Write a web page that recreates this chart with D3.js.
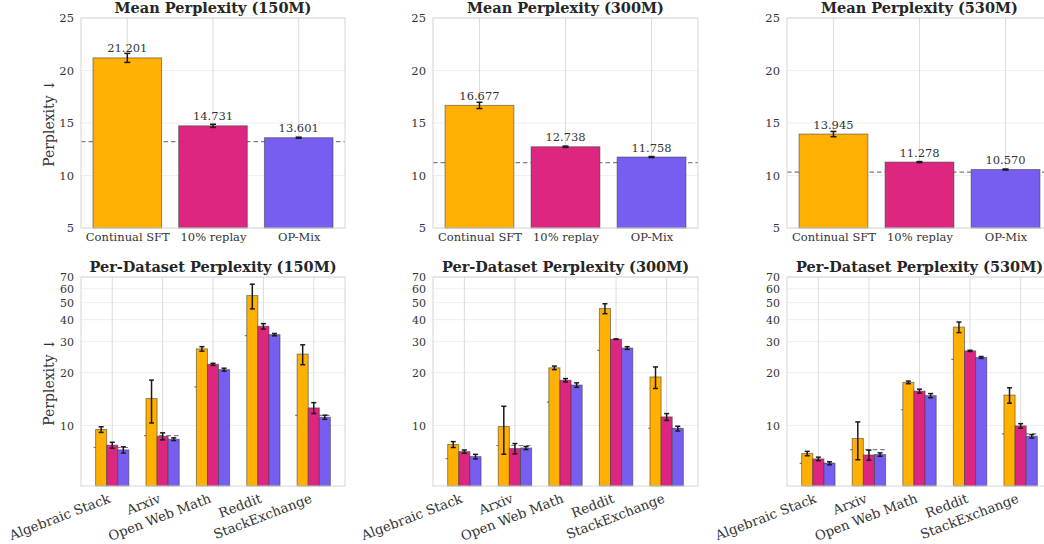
<!DOCTYPE html>
<html><head><meta charset="utf-8">
<script src="https://cdn.jsdelivr.net/npm/d3@7"></script>
<style>
html,body{margin:0;padding:0;background:#fff;}
svg{display:block;font-family:"DejaVu Serif",serif;}
</style></head>
<body><svg id="chart" width="1044" height="544"></svg>
<script>
// ---------- data ----------
const sizes = ["150M", "300M", "530M"];
const methods = ["Continual SFT", "10% replay", "OP-Mix"];
const colors = ["#FFB000", "#DC267F", "#785EF0"];
const meanValues = [[21.201, 14.731, 13.601], [16.677, 12.738, 11.758], [13.945, 11.278, 10.570]];
const meanErrors = [[0.43, 0.15, 0.05], [0.30, 0.06, 0.05], [0.25, 0.05, 0.05]];
const meanBaseline = [13.22, 11.22, 10.33];
const meanTicks = [5, 10, 15, 20, 25];

const datasets = ["Algebraic Stack", "Arxiv", "Open Web Math", "Reddit", "StackExchange"];
// [size][method][dataset]
const dsValues = [
  [[9.49, 14.24, 27.3, 54.9, 25.5], [7.73, 8.69, 22.3, 36.7, 12.6], [7.27, 8.36, 20.8, 32.9, 11.15]],
  [[7.80, 9.87, 21.3, 46.3, 18.9], [7.11, 7.40, 18.1, 31.0, 11.2], [6.66, 7.45, 17.0, 27.6, 9.61]],
  [[6.93, 8.44, 17.6, 36.3, 14.9], [6.46, 6.80, 15.7, 26.6, 9.95], [6.10, 6.84, 14.8, 24.4, 8.69]]
];
const dsErrors = [
  [[0.35, 3.9, 0.8, 8.8, 3.3], [0.3, 0.4, 0.3, 1.3, 0.9], [0.3, 0.15, 0.4, 0.5, 0.3]],
  [[0.3, 3.0, 0.5, 3.0, 2.65], [0.15, 0.5, 0.4, 0.1, 0.5], [0.2, 0.15, 0.5, 0.5, 0.3]],
  [[0.2, 2.05, 0.3, 2.5, 1.5], [0.15, 0.45, 0.4, 0.2, 0.3], [0.12, 0.15, 0.4, 0.3, 0.2]]
];
const dsBaseline = [
  [7.50, 8.77, 16.6, 32.5, 11.44],
  [6.49, 7.70, 13.6, 26.8, 9.65],
  [6.10, 7.30, 12.3, 23.8, 8.96]
];
const dsTicks = [10, 20, 30, 40, 50, 60, 70];

// ---------- layout ----------
const svg = d3.select("#chart");
svg.append("rect").attr("width", 1044).attr("height", 544).attr("fill", "#fff");
const panelX = [[81, 345], [433, 698], [787, 1052]];
const topY = [18, 228];
const botY = [277, 486];
const textCol = "#333";
const gridH = "#efefef", gridV = "#dcdcdc", spineCol = "#d6d6d6";

function frame(g, x0, x1, y0, y1) {
  g.append("rect").attr("x", x0).attr("y", y0).attr("width", x1 - x0).attr("height", y1 - y0)
    .attr("fill", "none").attr("stroke", spineCol).attr("stroke-width", 1);
}

function errBar(g, cx, y1, y2, cap, sw) {
  g.append("line").attr("x1", cx).attr("x2", cx).attr("y1", y1).attr("y2", y2)
    .attr("stroke", "#1a1a1a").attr("stroke-width", sw);
  [y1, y2].forEach(yy => g.append("line").attr("x1", cx - cap).attr("x2", cx + cap)
    .attr("y1", yy).attr("y2", yy).attr("stroke", "#1a1a1a").attr("stroke-width", sw));
}

function yLabel(g, x, y) {
  g.append("text").attr("transform", `translate(${x},${y}) rotate(-90)`)
    .attr("text-anchor", "middle").attr("font-size", 14).attr("fill", textCol)
    .text("Perplexity \u2193");
}

// ---------- top row: mean perplexity ----------
sizes.forEach((s, si) => {
  const [x0, x1] = panelX[si];
  const g = svg.append("g");
  const x = d3.scaleLinear().domain([-0.54, 2.54]).range([x0, x1]);
  const y = d3.scaleLinear().domain([5, 25]).range([topY[1], topY[0]]);
  // grid
  meanTicks.forEach(t => g.append("line").attr("x1", x0).attr("x2", x1)
    .attr("y1", y(t)).attr("y2", y(t)).attr("stroke", gridH));
  methods.forEach((m, i) => g.append("line").attr("x1", x(i)).attr("x2", x(i))
    .attr("y1", topY[0]).attr("y2", topY[1]).attr("stroke", gridV));
  // baseline
  g.append("line").attr("x1", x0).attr("x2", x1)
    .attr("y1", y(meanBaseline[si])).attr("y2", y(meanBaseline[si]))
    .attr("stroke", "#7f7f7f").attr("stroke-width", 1.2).attr("stroke-dasharray", "4.5,3");
  // bars
  methods.forEach((m, i) => {
    const v = meanValues[si][i];
    g.append("rect").attr("x", x(i - 0.4)).attr("width", x(i + 0.4) - x(i - 0.4))
      .attr("y", y(v)).attr("height", y(5) - y(v))
      .attr("fill", colors[i]).attr("stroke", "#3a3a3a").attr("stroke-opacity", 0.55).attr("stroke-width", 1);
    const e = meanErrors[si][i];
    errBar(g, x(i), y(v + e), y(v - e), 3, 1.5);
    g.append("text").attr("x", x(i)).attr("y", y(v) - 5.5).attr("text-anchor", "middle")
      .attr("font-size", 11.5).attr("fill", textCol).text(v.toFixed(3));
  });
  frame(g, x0, x1, topY[0], topY[1]);
  // y axis
  const ya = g.append("g").attr("transform", `translate(${x0},0)`)
    .call(d3.axisLeft(y).tickValues(meanTicks).tickSize(0).tickPadding(7).tickFormat(d3.format("d")));
  ya.select(".domain").remove();
  ya.selectAll("text").attr("font-size", 11.5).attr("fill", textCol).attr("font-family", "DejaVu Serif");
  // x axis
  const xa = g.append("g").attr("transform", `translate(0,${topY[1]})`)
    .call(d3.axisBottom(x).tickValues([0, 1, 2]).tickSize(0).tickPadding(5).tickFormat(i => methods[i]));
  xa.select(".domain").remove();
  xa.selectAll("text").attr("font-size", 11.5).attr("fill", textCol).attr("font-family", "DejaVu Serif");
  // title
  svg.append("text").attr("x", (x0 + x1) / 2).attr("y", 13).attr("text-anchor", "middle")
    .attr("font-size", 14.5).attr("font-weight", "bold").attr("fill", "#262626")
    .text(`Mean Perplexity (${s})`);
});
yLabel(svg, 54, 123);

// ---------- bottom row: per-dataset perplexity ----------
const bw = 0.22;
sizes.forEach((s, si) => {
  const [x0, x1] = panelX[si];
  const g = svg.append("g");
  const x = d3.scaleLinear().domain([-0.62, 4.62]).range([x0, x1]);
  const y = d3.scaleLog().domain([4.53, 70]).range([botY[1], botY[0]]);
  dsTicks.forEach(t => g.append("line").attr("x1", x0).attr("x2", x1)
    .attr("y1", y(t)).attr("y2", y(t)).attr("stroke", gridH));
  datasets.forEach((d, j) => g.append("line").attr("x1", x(j)).attr("x2", x(j))
    .attr("y1", botY[0]).attr("y2", botY[1]).attr("stroke", gridV));
  // baselines
  datasets.forEach((d, j) => g.append("line").attr("x1", x(j - 0.37)).attr("x2", x(j + 0.37))
    .attr("y1", y(dsBaseline[si][j])).attr("y2", y(dsBaseline[si][j]))
    .attr("stroke", "#7f7f7f").attr("stroke-width", 1.2).attr("stroke-dasharray", "4.5,3"));
  methods.forEach((m, i) => {
    datasets.forEach((d, j) => {
      const v = dsValues[si][i][j];
      const cx = j + (i - 1) * bw;
      g.append("rect").attr("x", x(cx - bw / 2)).attr("width", x(cx + bw / 2) - x(cx - bw / 2))
        .attr("y", y(v)).attr("height", botY[1] - y(v))
        .attr("fill", colors[i]).attr("stroke", "#3a3a3a").attr("stroke-opacity", 0.55).attr("stroke-width", 1);
    });
  });
  methods.forEach((m, i) => {
    datasets.forEach((d, j) => {
      const v = dsValues[si][i][j], e = dsErrors[si][i][j];
      const cx = j + (i - 1) * bw;
      errBar(g, x(cx), y(v + e), y(v - e), 2.5, 1.5);
    });
  });
  frame(g, x0, x1, botY[0], botY[1]);
  const ya = g.append("g").attr("transform", `translate(${x0},0)`)
    .call(d3.axisLeft(y).tickValues(dsTicks).tickSize(0).tickPadding(7).tickFormat(d3.format("d")));
  ya.select(".domain").remove();
  ya.selectAll("text").attr("font-size", 11).attr("fill", textCol).attr("font-family", "DejaVu Serif");
  // rotated x labels
  datasets.forEach((d, j) => {
    g.append("text").attr("transform", `translate(${x(j) - 1},${botY[1] + 16}) rotate(-21)`)
      .attr("text-anchor", "end").attr("font-size", 13.3).attr("fill", textCol).text(d);
  });
  svg.append("text").attr("x", (x0 + x1) / 2).attr("y", 272).attr("text-anchor", "middle")
    .attr("font-size", 14.5).attr("font-weight", "bold").attr("fill", "#262626")
    .text(`Per-Dataset Perplexity (${s})`);
});
yLabel(svg, 54, 382);
</script></body></html>
